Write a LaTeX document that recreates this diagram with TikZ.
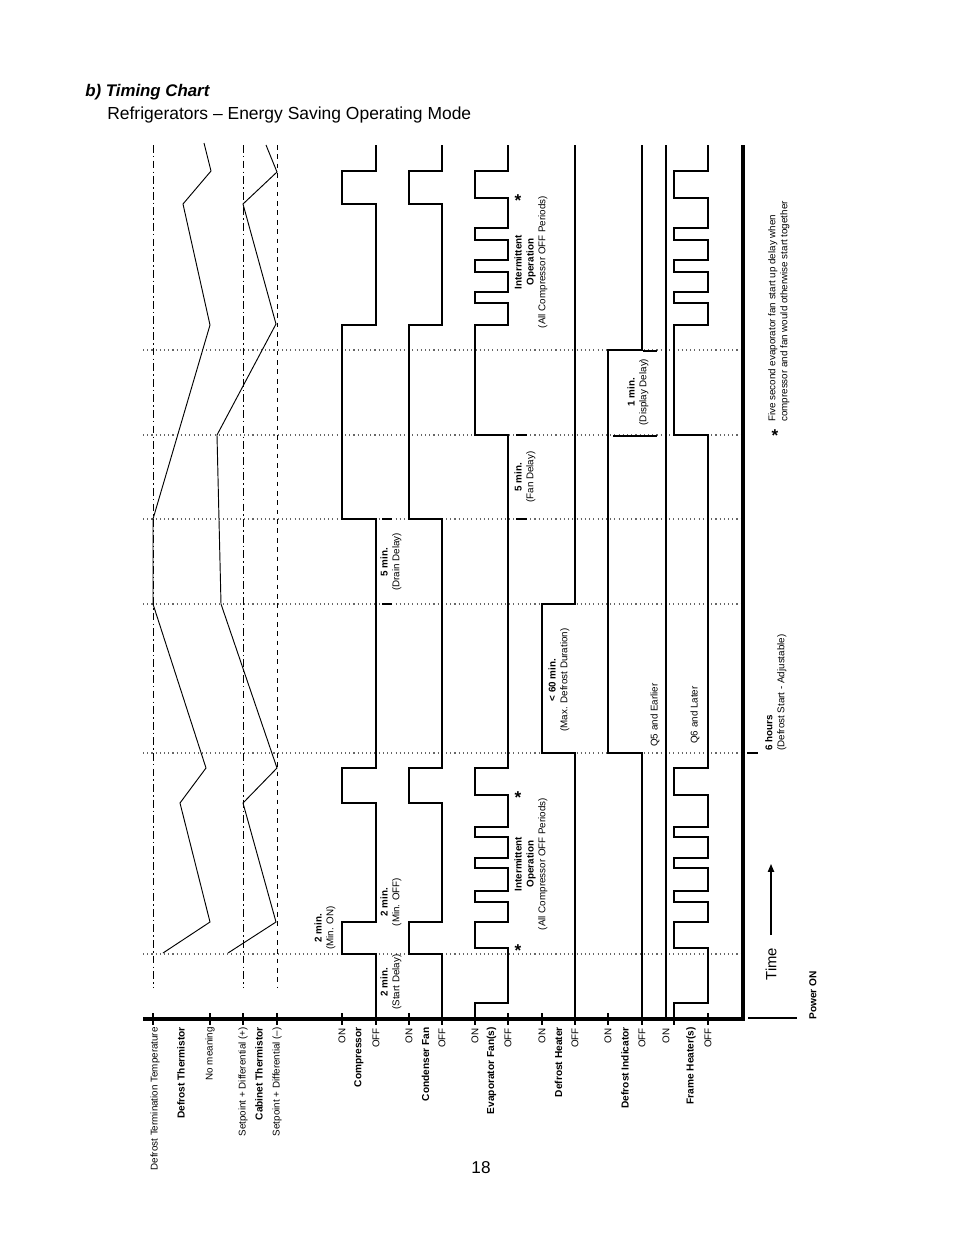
\documentclass[tikz,border=0pt]{standalone}
\usepackage{fontspec}
\setmainfont{Liberation Sans}
\usetikzlibrary{arrows.meta}
\tikzset{
  wave/.style={line width=1.7pt,line join=miter},
  curve/.style={line width=0.6pt},
  timeline/.style={line width=0.7pt,color=black!60,dotted},
  lbl/.style={rotate=90,anchor=east,inner sep=0pt,font=\fontsize{6.3}{7}\selectfont},
  note/.style={rotate=90,align=center,inner sep=0pt,font=\fontsize{6.3}{7.6}\selectfont},
}
\begin{document}
\begin{tikzpicture}[x=0.6415pt,y=-0.6415pt]
\useasboundingbox (0,0) rectangle (954,1235);
% titles
\node (ttl) [anchor=base west,inner sep=0pt,font=\fontsize{10.8}{12}\selectfont\bfseries\itshape] at (85,96) {b) Timing Chart};
\node (sub) [anchor=base west,inner sep=0pt,font=\fontsize{11.2}{13}\selectfont] at (107,119) {Refrigerators -- Energy Saving Operating Mode};
\node (pg) [font=\fontsize{11}{12}\selectfont] at (481,1168) {18};

% time markers
\foreach \t in {350,435,519,604,753,954}
  \draw [timeline] (143,\t)--(743,\t);
% thermistor levels
\draw [line width=0.6pt,dash pattern=on 5pt off 2pt on 1pt off 2pt] (153,145)--(153,987);
\draw [line width=0.6pt,dash pattern=on 5pt off 2pt on 1pt off 2pt] (243,145)--(243,987);
\draw [line width=0.6pt,dashed] (277,145)--(277,987);

% defrost thermistor and cabinet thermistor
\draw [curve] (163,953)--(210,922)--(180,803)--(206,768)--(153,604)--(153,519)--(210,325)--(183,204)--(211,171)--(204,143);
\draw [curve] (228,953)--(276,922)--(243,803)--(277,768)--(221,604)--(217,435)--(276,324)--(243,204)--(277,172)--(266,145);

% compressor, condenser fan
\foreach \on/\off in {342/376,409/442}
  \draw [wave] (\off,1019)--(\off,954)--(\on,954)--(\on,922)--(\off,922)--(\off,803)--(\on,803)--(\on,768)--(\off,768)--(\off,519)--(\on,519)--(\on,325)--(\off,325)--(\off,204)--(\on,204)--(\on,171)--(\off,171)--(\off,145);
% evaporator fan, frame heater
\foreach \on/\off in {475/508,674/708}
  \draw [wave] (\on,1019)--(\on,1003)--(\off,1003)--(\off,948)--(\on,948)--(\on,922)--(\off,922)--(\off,902)--(\on,902)--(\on,891)--(\off,891)--(\off,868)--(\on,868)--(\on,858)--(\off,858)--(\off,837)--(\on,837)--(\on,827)--(\off,827)--(\off,795)--(\on,795)--(\on,768)--(\off,768)--(\off,435)--(\on,435)--(\on,325)--(\off,325)--(\off,303)--(\on,303)--(\on,292)--(\off,292)--(\off,272)--(\on,272)--(\on,260)--(\off,260)--(\off,240)--(\on,240)--(\on,228)--(\off,228)--(\off,198)--(\on,198)--(\on,171)--(\off,171)--(\off,145);
% defrost heater, defrost indicator
\draw [wave] (575,1019)--(575,753)--(542,753)--(542,604)--(575,604)--(575,145);
\draw [wave] (642,1019)--(642,753)--(608,753)--(608,350)--(642,350)--(642,145);
\draw [wave] (666,1019)--(666,145);

% axis and frame
\draw [line width=2pt] (143,1019)--(743,1019)--(743,145);
\foreach \x in {153,210,243,277,342,376,409,442,475,508,542,575,608,642,674,708}
  \draw [line width=1.5pt] (\x,1013)--(\x,1025);

% delay marks
\draw [line width=0.8pt] (382,519)--(392,519) (382,604)--(392,604);
\draw [line width=0.8pt] (516,435)--(527,435) (516,519)--(527,519);
\draw [line width=0.8pt] (613,436)--(657,436) (643,351)--(657,351);
\draw [line width=0.8pt] (747,753)--(758,753);
\draw [line width=1.6pt] (748,1018)--(797,1018);

% row labels
\node (ldt) [lbl] at (155,1027) {Defrost Termination Temperature};
\node (ldth) [lbl,font=\fontsize{6.5}{7}\selectfont\bfseries] at (181,1027) {Defrost Thermistor};
\node (lnm) [lbl] at (210,1027) {No meaning};
\node (lsp) [lbl] at (243,1027) {Setpoint + Differential (+)};
\node (lcth) [lbl,font=\fontsize{6.5}{7}\selectfont\bfseries] at (259,1027) {Cabinet Thermistor};
\node (lsm) [lbl] at (277,1027) {Setpoint + Differential (--)};
\foreach \on/\off/\nm/\txt in {342/376/cmp/Compressor,409/442/cnd/Condenser Fan,475/508/evp/Evaporator Fan(s),542/575/dfh/Defrost Heater,608/642/dfi/Defrost Indicator,666/708/frh/Frame Heater(s)}{
  \node (\nm on) [lbl] at (\on,1028) {ON};
  \node (\nm off) [lbl] at (\off,1028) {OFF};
  \node (\nm) [lbl,font=\fontsize{6.5}{7}\selectfont\bfseries] at ({(\on+\off)/2+(\on==666)*4},1027) {\txt};
}
\node (pwr) [lbl,anchor=west,font=\fontsize{6.5}{7}\selectfont\bfseries] at (813,1020) {Power ON};
\node (time) [rotate=90,font=\fontsize{9.5}{10}\selectfont] at (771,964) {Time};
\coordinate (tA) at (771,935);
\coordinate (tB) at (771,864);
\draw [-{Triangle[length=5pt,width=4pt]},line width=0.7pt] (tA)--(tB);

% annotations
\node (minon) [note] at (325,928) {\textbf{2 min.}\\(Min. ON)};
\node (minoff) [note] at (391,902) {\textbf{2 min.}\\(Min. OFF)};
\node (start) [note] at (391,982) {\textbf{2 min.}\\(Start Delay)};
\node (int1) [note] at (531,864) {\textbf{Intermittent}\\\textbf{Operation}\\(All Compressor OFF Periods)};
\node (int2) [note] at (531,262) {\textbf{Intermittent}\\\textbf{Operation}\\(All Compressor OFF Periods)};
\node (drain) [note] at (391,562) {\textbf{5 min.}\\(Drain Delay)};
\node (fan) [note] at (525,477) {\textbf{5 min.}\\(Fan Delay)};
\node (dur) [note] at (559,680) {\textbf{< 60 min.}\\(Max. Defrost Duration)};
\node (disp) [note] at (638,392) {\textbf{1 min.}\\(Display Delay)};
\node (q5) [note] at (655,715) {Q5 and Earlier};
\node (q6) [note] at (695,715) {Q6 and Later};
\node (six) [note,anchor=north west,align=left] at (765,751) {\textbf{6 hours}\\(Defrost Start - Adjustable)};
\node (foot) [note,anchor=north west,align=left] at (768,422) {Five second evaporator fan start up delay when\\compressor and fan would otherwise start together};
\foreach \y/\nm in {948/s1,795/s2,198/s4}
  \node (\nm) [font=\fontsize{11}{11}\selectfont\bfseries] at (518,\y+3) {*};
\node (s5) [font=\fontsize{11}{11}\selectfont\bfseries] at (775,436) {*};
\end{tikzpicture}
\end{document}
